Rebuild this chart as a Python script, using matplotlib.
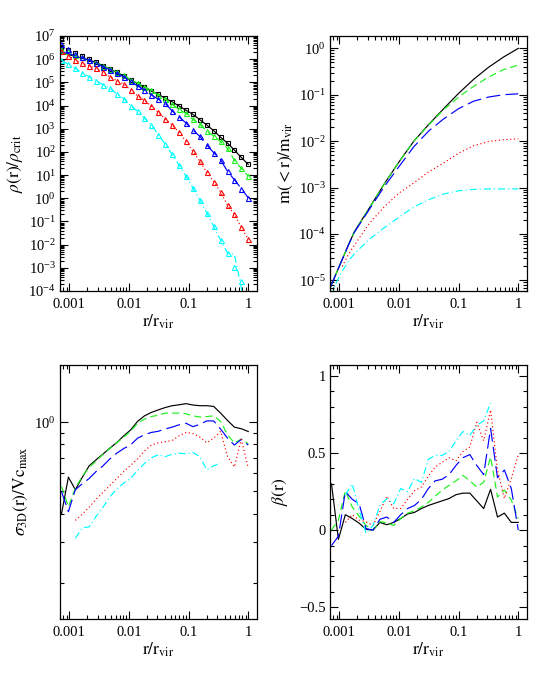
import numpy as np
import matplotlib
matplotlib.use('Agg')
import matplotlib.pyplot as plt
from matplotlib.ticker import (LogLocator, FixedLocator, FixedFormatter,
                               MultipleLocator, NullFormatter)

plt.rcParams['font.family'] = ['Liberation Serif', 'DejaVu Serif']
plt.rcParams['mathtext.fontset'] = 'stix'

# ---------------- data ----------------
# radial bins (log10 r/r_vir)
log_r_bins = [-3.130, -3.014, -2.898, -2.782, -2.666, -2.551, -2.435, -2.319,
              -2.203, -2.087, -1.971, -1.855, -1.739, -1.623, -1.507, -1.392,
              -1.276, -1.160, -1.044, -0.928, -0.812, -0.696, -0.580, -0.464,
              -0.348, -0.233, -0.117, 0.000]

# density profiles, log10(rho/rho_crit): markers
log_rho_pts_black = [6.50, 6.40, 6.25, 6.13, 6.00, 5.86, 5.72, 5.57, 5.43, 5.28,
                     5.10, 4.95, 4.80, 4.62, 4.49, 4.31, 4.16, 3.98, 3.80, 3.62,
                     3.39, 3.16, 2.92, 2.63, 2.38, 2.08, 1.76, 1.46]
log_rho_pts_green = [6.45, 6.35, 6.20, 6.08, 5.97, 5.85, 5.72, 5.58, 5.44, 5.30,
                     5.12, 4.97, 4.82, 4.65, 4.45, 4.27, 4.06, 3.83, 3.66, 3.40,
                     3.19, 2.90, 2.69, 2.45, 2.15, 1.64, 1.29, 0.95]
log_rho_pts_blue = [6.65, 6.46, 6.22, 6.10, 5.96, 5.82, 5.67, 5.55, 5.39, 5.24,
                    5.04, 4.85, 4.68, 4.46, 4.27, 4.09, 3.77, 3.51, 3.25, 2.94,
                    2.67, 2.30, 1.97, 1.66, 1.16, 0.80, 0.42, 0.02]
log_rho_pts_red = [6.35, 6.15, 5.96, 5.82, 5.72, 5.60, 5.43, 5.24, 5.07, 4.93,
                   4.67, 4.42, 4.22, 3.97, 3.70, 3.43, 3.16, 2.85, 2.45, 2.02,
                   1.60, 1.12, 0.72, 0.27, -0.30, -0.70, -1.26, -1.77]
log_rho_pts_cyan = [5.95, 5.78, 5.60, 5.40, 5.25, 5.08, 4.90, 4.75, 4.50, 4.30,
                    4.00, 3.75, 3.45, 3.15, 2.75, 2.33, 1.89, 1.43, 0.95, 0.45,
                    -0.08, -0.63, -1.21, -1.81, -2.36, -2.97, -3.57, -4.50]
# density profiles: lines
log_rho_line_black = [6.25, 6.20, 6.12, 6.04, 5.96, 5.86, 5.72, 5.57, 5.43, 5.28,
                      5.10, 4.95, 4.80, 4.62, 4.49, 4.31, 4.16, 3.98, 3.80, 3.62,
                      3.39, 3.16, 2.92, 2.63, 2.38, 2.08, 1.76, 1.46]
log_rho_line_green = [6.25, 6.20, 6.12, 6.04, 5.96, 5.85, 5.72, 5.58, 5.44, 5.30,
                      5.12, 4.97, 4.82, 4.65, 4.45, 4.27, 4.06, 3.83, 3.66, 3.40,
                      3.19, 2.90, 2.69, 2.45, 2.15, 1.64, 1.29, 0.95]
log_rho_line_blue = [6.30, 6.24, 6.15, 6.06, 5.96, 5.82, 5.67, 5.55, 5.39, 5.24,
                     5.04, 4.85, 4.68, 4.46, 4.27, 4.09, 3.77, 3.51, 3.25, 2.94,
                     2.67, 2.30, 1.97, 1.66, 1.16, 0.80, 0.42, 0.02]
log_rho_line_red = [6.35, 6.15, 5.96, 5.82, 5.72, 5.60, 5.43, 5.24, 5.07, 4.93,
                    4.67, 4.42, 4.22, 3.97, 3.70, 3.43, 3.16, 2.85, 2.45, 2.02,
                    1.60, 1.12, 0.72, 0.27, -0.30, -0.70, -1.26, -1.77]
log_rho_line_cyan = [5.95, 5.78, 5.60, 5.40, 5.25, 5.08, 4.90, 4.75, 4.50, 4.30,
                     4.00, 3.75, 3.45, 3.15, 2.75, 2.33, 1.89, 1.43, 0.95, 0.45,
                     -0.08, -0.63, -1.21, -1.81, -2.36, -2.42, -3.85, -5.50]

# cumulative mass profiles, log10(m(<r)/m_vir)
log_r_mass = [-3.15, -3.05, -2.95, -2.85, -2.75, -2.50, -2.25, -2.00,
              -1.75, -1.50, -1.25, -1.00, -0.75, -0.50, -0.25, 0.00]
log_m_black = [-5.15, -4.85, -4.55, -4.25, -3.96, -3.45, -2.93, -2.45,
               -2.00, -1.64, -1.30, -0.97, -0.67, -0.41, -0.19, 0.00]
log_m_green = [-5.15, -4.85, -4.55, -4.25, -3.96, -3.45, -2.93, -2.45,
               -2.00, -1.65, -1.32, -1.05, -0.82, -0.62, -0.46, -0.36]
log_m_blue = [-5.15, -4.85, -4.55, -4.25, -3.97, -3.48, -2.99, -2.55,
              -2.12, -1.78, -1.52, -1.30, -1.14, -1.05, -1.00, -0.98]
log_m_red = [np.nan, np.nan, -4.70, -4.45, -4.25, -3.78, -3.42, -3.12,
             -2.90, -2.66, -2.47, -2.26, -2.10, -2.01, -1.97, -1.95]
log_m_cyan = [-5.35, -5.05, -4.80, -4.60, -4.43, -4.12, -3.87, -3.64,
              -3.42, -3.26, -3.14, -3.07, -3.04, -3.03, -3.03, -3.03]

# velocity dispersion, log10(sigma_3D / Vc_max)
log_sig_black = [-0.399, -0.239, -0.294, -0.240, -0.190, -0.164, -0.139, -0.113,
                 -0.089, -0.060, -0.034, 0.003, 0.027, 0.042, 0.053, 0.063,
                 0.071, 0.075, 0.080, 0.074, 0.071, 0.071, 0.068, 0.039,
                 0.007, -0.022, -0.029, -0.041]
log_sig_green = [-0.280, -0.367, -0.287, -0.236, -0.196, -0.170, -0.140, -0.115,
                 -0.090, -0.065, -0.040, -0.005, 0.013, 0.024, 0.030, 0.039,
                 0.039, 0.039, 0.036, 0.027, 0.022, 0.024, 0.027, 0.003,
                 -0.055, -0.091, -0.074, -0.094]
log_sig_blue = [-0.302, -0.389, -0.294, -0.268, -0.245, -0.215, -0.190, -0.160,
                -0.135, -0.115, -0.099, -0.070, -0.055, -0.045, -0.040, -0.030,
                -0.022, -0.012, -0.005, -0.020, -0.010, 0.005, 0.005, -0.030,
                -0.070, -0.100, -0.075, -0.100]
log_sig_red = [np.nan, np.nan, -0.427, -0.400, -0.370, -0.335, -0.305, -0.275,
               -0.245, -0.215, -0.188, -0.160, -0.125, -0.100, -0.090, -0.085,
               -0.080, -0.060, -0.045, -0.050, -0.065, -0.090, -0.070, -0.040,
               -0.150, -0.195, -0.075, -0.200]
log_sig_cyan = [np.nan, np.nan, -0.505, -0.460, -0.455, -0.410, -0.370, -0.325,
                -0.290, -0.265, -0.245, -0.210, -0.180, -0.155, -0.142, -0.150,
                -0.140, -0.135, -0.138, -0.132, -0.150, -0.207, -0.190, -0.178,
                np.nan, np.nan, np.nan, np.nan]

# anisotropy beta(r)
beta_black = [0.30, -0.06, 0.10, 0.075, 0.045, 0.005, 0.00, 0.05, 0.035, 0.05,
              0.075, 0.105, 0.115, 0.14, 0.16, 0.175, 0.19, 0.205, 0.23, 0.24,
              0.24, 0.19, 0.14, 0.265, 0.085, 0.11, 0.05, 0.05]
beta_green = [0.00, 0.065, 0.255, 0.15, 0.09, 0.03, 0.00, 0.055, 0.048, 0.03,
              0.075, 0.11, 0.125, 0.15, 0.18, 0.22, 0.26, 0.29, 0.32, 0.355,
              0.32, 0.28, 0.31, 0.475, 0.215, 0.26, 0.195, 0.075]
beta_blue = [-0.10, -0.04, 0.25, 0.20, 0.17, 0.01, 0.00, 0.07, 0.085, 0.05,
             0.10, 0.14, 0.16, 0.20, 0.27, 0.32, 0.33, 0.36, 0.42, 0.47,
             0.49, 0.42, 0.36, 0.66, 0.34, 0.39, 0.27, 0.00]
beta_red = [np.nan, np.nan, 0.05, 0.10, 0.065, 0.054, 0.03, 0.12, 0.22, 0.14,
            0.14, 0.20, 0.255, 0.28, 0.35, 0.41, 0.44, 0.47, 0.45, 0.51,
            0.54, 0.70, 0.58, 0.78, 0.39, 0.205, 0.335, 0.49]
beta_cyan = [np.nan, np.nan, 0.23, 0.30, 0.13, -0.02, 0.03, 0.16, 0.205, 0.17,
             0.27, 0.25, 0.335, 0.31, 0.46, 0.485, 0.485, 0.51, 0.58, 0.64,
             0.615, 0.68, 0.71, 0.825, np.nan, np.nan, np.nan, np.nan]

x_ticks = [0.001, 0.01, 0.1, 1]
x_tick_labels = ['0.001', '0.01', '0.1', '1']
beta_ticks = [-0.5, 0, 0.5, 1]
beta_tick_labels = ['\u22120.5', '0', '0.5', '1']

# ---------------- styles ----------------
GREEN = '#1ef01e'
styles = {
    'black': dict(color='black', ls='-'),
    'green': dict(color=GREEN, ls=(0, (6, 3.5))),
    'blue': dict(color='#0000ff', ls=(0, (12, 4.5))),
    'red': dict(color='#ff0000', ls=(0, (1, 2.2))),
    'cyan': dict(color='#00ffff', ls=(0, (6, 2.5, 1, 2.5))),
}
LW = 0.85

fig = plt.figure(figsize=(5.55, 6.93), dpi=100)
fig.patch.set_facecolor('white')
W, H = 555.0, 693.0


def add_axes(l, t, r, b):
    return fig.add_axes([l / W, 1 - b / H, (r - l) / W, (b - t) / H])


ax1 = add_axes(60, 36, 257, 291)
ax2 = add_axes(330, 36, 527, 291)
ax3 = add_axes(60, 364.5, 257, 618.7)
ax4 = add_axes(330, 364.5, 527, 618.7)

r_bins = 10 ** np.array(log_r_bins)
r_mass = 10 ** np.array(log_r_mass)

# panel 1: density
line_sets = [('black', log_rho_line_black, log_rho_pts_black, 's'),
             ('green', log_rho_line_green, log_rho_pts_green, '^'),
             ('blue', log_rho_line_blue, log_rho_pts_blue, '^'),
             ('red', log_rho_line_red, log_rho_pts_red, '^'),
             ('cyan', log_rho_line_cyan, log_rho_pts_cyan, '^')]
for name, ln, pts, mk in line_sets:
    st = styles[name]
    ax1.plot(r_bins, 10 ** np.array(ln), color=st['color'], ls=st['ls'], lw=LW)
    ax1.plot(r_bins, 10 ** np.array(pts), ls='none', marker=mk,
             ms=3.2 if mk == 's' else 3.6,
             mfc='none', mec=st['color'], mew=0.8)
ax1.set_yscale('log')
ax1.set_ylim(1e-4, 1e7)

# panel 2: mass
for name, vals in [('black', log_m_black), ('green', log_m_green),
                   ('blue', log_m_blue), ('red', log_m_red), ('cyan', log_m_cyan)]:
    st = styles[name]
    ax2.plot(r_mass, 10 ** np.array(vals), color=st['color'], ls=st['ls'], lw=LW)
ax2.set_yscale('log')
ax2.set_ylim(10 ** -5.23, 10 ** 0.266)

# panel 3: sigma
for name, vals in [('black', log_sig_black), ('green', log_sig_green),
                   ('blue', log_sig_blue), ('red', log_sig_red), ('cyan', log_sig_cyan)]:
    st = styles[name]
    ax3.plot(r_bins, 10 ** np.array(vals), color=st['color'], ls=st['ls'], lw=LW)
ax3.set_yscale('log')
ax3.set_ylim(10 ** -0.854, 10 ** 0.25)

# panel 4: beta
for name, vals in [('black', beta_black), ('green', beta_green),
                   ('blue', beta_blue), ('red', beta_red), ('cyan', beta_cyan)]:
    st = styles[name]
    ax4.plot(r_bins, vals, color=st['color'], ls=st['ls'], lw=LW)
ax4.set_ylim(-0.575, 1.075)
ax4.yaxis.set_major_locator(FixedLocator(beta_ticks))
ax4.yaxis.set_major_formatter(FixedFormatter(beta_tick_labels))
ax4.yaxis.set_minor_locator(MultipleLocator(0.1))

# log y ticks
for ax in (ax1, ax2):
    ax.yaxis.set_major_locator(LogLocator(base=10, numticks=30))
    ax.yaxis.set_minor_locator(LogLocator(base=10, subs=np.arange(2, 10), numticks=200))
    ax.yaxis.set_minor_formatter(NullFormatter())
ax3.yaxis.set_major_locator(FixedLocator([1.0]))
ax3.yaxis.set_major_formatter(FixedFormatter([r'$\mathdefault{10^{0}}$']))
ax3.yaxis.set_minor_locator(LogLocator(base=10, subs=np.arange(2, 10), numticks=200))
ax3.yaxis.set_minor_formatter(NullFormatter())

ylabels = [r'$\rho(\mathrm{r})/\rho_{\mathrm{crit}}$',
           r'$\mathrm{m(<r)/m_{vir}}$',
           r'$\sigma_{\mathrm{3D}}(\mathrm{r})/\mathrm{Vc_{max}}$',
           r'$\beta(\mathrm{r})$']
ylabel_x = [-0.178, -0.178, -0.152, -0.203]

for ax, yl, yx in zip((ax1, ax2, ax3, ax4), ylabels, ylabel_x):
    ax.set_xscale('log')
    ax.set_xlim(7.0e-4, 1.40)
    ax.xaxis.set_major_locator(FixedLocator(x_ticks))
    ax.xaxis.set_major_formatter(FixedFormatter(x_tick_labels))
    ax.xaxis.set_minor_locator(LogLocator(base=10, subs=np.arange(2, 10), numticks=200))
    ax.xaxis.set_minor_formatter(NullFormatter())
    ax.tick_params(which='both', direction='in', top=True, right=True,
                   labelsize=10.5, width=0.8)
    ax.tick_params(which='major', length=6)
    ax.tick_params(which='minor', length=3)
    ax.tick_params(axis='x', pad=5)
    ax.tick_params(axis='y', pad=3)
    for sp in ax.spines.values():
        sp.set_linewidth(0.9)
    ax.set_xlabel(r'$\mathrm{r/r_{vir}}$', fontsize=12.5)
    ax.xaxis.set_label_coords(0.5, -0.085)
    ax.set_ylabel(yl, fontsize=12.5)
    ax.yaxis.set_label_coords(yx, 0.5)

fig.savefig('out.png', dpi=100, facecolor='white')
